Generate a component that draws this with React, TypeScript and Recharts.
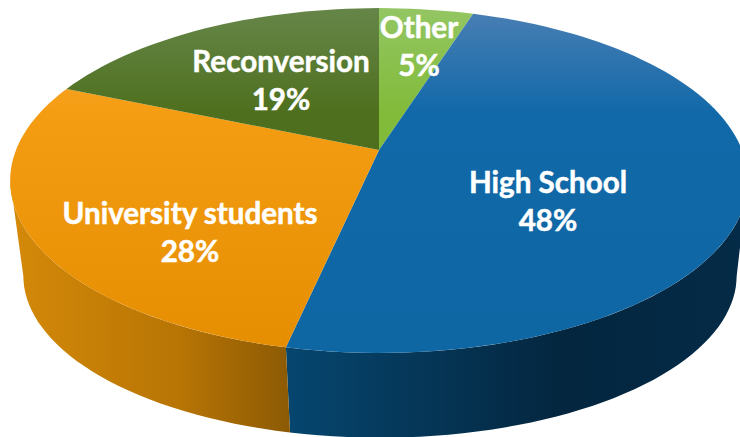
/**
 * 3D-looking pie: audience split, drawn with Recharts.
 * The Pie supplies the angles; the custom shape projects them on a tilted disc.
 */
import React from "react";
import { PieChart, Pie } from "recharts";

const CATEGORIES = ["Other", "High School", "University students", "Reconversion"];
const VALUES = [4.9, 48.5, 28, 18.6];
const SHOWN_PERCENT = ["5%", "48%", "28%", "19%"];

// top face gradient stops (top of picture -> middle -> bottom)
const FACE_COLORS = [
  ["#93c663", "#82bb3a", "#7fb835"],
  ["#4a7fb4", "#1269a9", "#0e66a3"],
  ["#f6a840", "#f59d12", "#e68e02"],
  ["#668649", "#4e701e", "#4c6d1c"],
];
// side wall gradient stops (left -> right), only the front slices show a wall
const WALL_COLORS = [
  ["#5c8a2a", "#5c8a2a", "#5c8a2a"],
  ["#06466f", "#04263f", "#042b47"],
  ["#d48909", "#b87504", "#8c5a05"],
  ["#3d5a17", "#3d5a17", "#3d5a17"],
];

const LABEL_SPOTS = [
  { x: 419, y: 38 },
  { x: 548, y: 193 },
  { x: 190, y: 224 },
  { x: 281, y: 72 },
];

const PERSPECTIVE = 0.177;
const SQUASH = 0.46;
const WALL_FROM = 100.2;
const WALL_TO = 259.8;

const project = (theta: number, cx: number, cy: number, a: number, b: number) => {
  const rad = (theta * Math.PI) / 180;
  const d = 1 + PERSPECTIVE * Math.cos(rad);
  return [cx + (a * Math.sin(rad)) / d, cy - (b * Math.cos(rad)) / d];
};

const arcPoints = (from: number, to: number, cx: number, cy: number, a: number, b: number) => {
  const pts: number[][] = [];
  const n = Math.max(2, Math.ceil(Math.abs(to - from) / 2));
  for (let i = 0; i <= n; i++) {
    pts.push(project(from + ((to - from) * i) / n, cx, cy, a, b));
  }
  return pts;
};

const toPath = (pts: number[][]) =>
  "M" + pts.map((p) => `${p[0].toFixed(1)},${p[1].toFixed(1)}`).join("L") + "Z";

const DiscSlice = (props: any) => {
  const { cx, cy, outerRadius, startAngle, endAngle, index } = props;
  const from = 90 - startAngle;
  const to = 90 - endAngle;
  const a = outerRadius;
  const b = outerRadius * SQUASH;

  const face = [[cx, cy], ...arcPoints(from, to, cx, cy, a, b)];

  const wallFrom = Math.max(from, WALL_FROM);
  const wallTo = Math.min(to, WALL_TO);
  let wall: number[][] | null = null;
  if (wallFrom < wallTo) {
    const upper = arcPoints(wallFrom, wallTo, cx, cy, a, b);
    const lower = arcPoints(wallTo, wallFrom, cx + 1, cy + 97, a * 0.967, b * 0.94);
    wall = [...upper, ...lower];
  }
  const xs = wall ? wall.map((p) => p[0]) : [0, 1];
  const faceId = `face-${index}`;
  const wallId = `wall-${index}`;

  return (
    <g>
      <defs>
        <linearGradient id={faceId} gradientUnits="userSpaceOnUse" x1="0" y1="8" x2="0" y2="353">
          <stop offset="0" stopColor={FACE_COLORS[index][0]} />
          <stop offset="0.3" stopColor={FACE_COLORS[index][1]} />
          <stop offset="1" stopColor={FACE_COLORS[index][2]} />
        </linearGradient>
        <linearGradient
          id={wallId}
          gradientUnits="userSpaceOnUse"
          x1={Math.min(...xs)}
          y1="0"
          x2={Math.max(...xs)}
          y2="0"
        >
          <stop offset="0" stopColor={WALL_COLORS[index][0]} />
          <stop offset="0.6" stopColor={WALL_COLORS[index][1]} />
          <stop offset="1" stopColor={WALL_COLORS[index][2]} />
        </linearGradient>
      </defs>
      {wall && <path d={toPath(wall)} fill={`url(#${wallId})`} />}
      <path d={toPath(face)} fill={`url(#${faceId})`} />
    </g>
  );
};

const SliceLabel = (props: any) => {
  const spot = LABEL_SPOTS[props.index];
  return (
    <text
      x={spot.x}
      y={spot.y}
      textAnchor="middle"
      fill="#ffffff"
      stroke="#ffffff"
      strokeWidth={0.5}
      fontFamily="Lato, sans-serif"
      fontWeight={700}
      fontSize={29.6}
    >
      <tspan x={spot.x}>{CATEGORIES[props.index]}</tspan>
      <tspan x={spot.x} dy={38}>
        {SHOWN_PERCENT[props.index]}
      </tspan>
    </text>
  );
};

const tableData = CATEGORIES.map((name, i) => ({ name, value: VALUES[i] }));

export default function App() {
  return (
    <div style={{ position: "absolute", left: 0, top: 0, width: 740, height: 437, overflow: "hidden", background: "#fff" }}>
      <PieChart width={740} height={437} margin={{ top: 0, right: 0, bottom: 0, left: 0 }}>
        <Pie
          data={tableData}
          dataKey="value"
          nameKey="name"
          cx={379}
          cy={150}
          innerRadius={0}
          outerRadius={363}
          startAngle={90}
          endAngle={-270}
          stroke="none"
          shape={DiscSlice}
          label={SliceLabel}
          labelLine={false}
          isAnimationActive={false}
        />
      </PieChart>
    </div>
  );
}
